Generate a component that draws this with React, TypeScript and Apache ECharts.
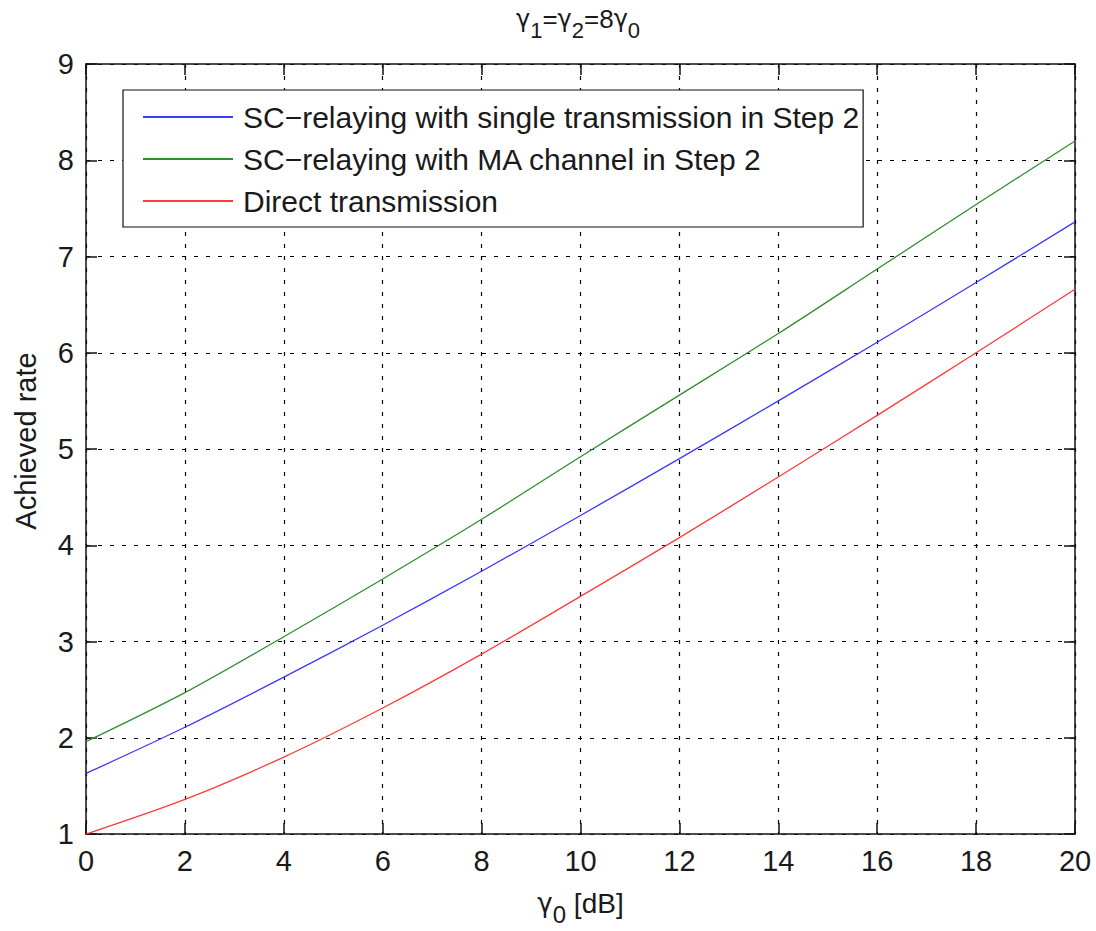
import React, { useEffect, useRef } from "react";
import * as echarts from "echarts";

const xValues = [0, 2, 4, 6, 8, 10, 12, 14, 16, 18, 20];
const singleTransmission = [1.63, 2.11, 2.63, 3.17, 3.73, 4.31, 4.9, 5.5, 6.11, 6.73, 7.36];
const maChannel = [1.96, 2.47, 3.05, 3.65, 4.27, 4.92, 5.56, 6.2, 6.87, 7.54, 8.2];
const directTransmission = [1.0, 1.36, 1.8, 2.31, 2.87, 3.47, 4.08, 4.71, 5.35, 6.0, 6.66];
const seriesNames = [
  "SC\u2212relaying with single transmission in Step 2",
  "SC\u2212relaying with MA channel in Step 2",
  "Direct transmission",
];
const xTicks = { min: 0, max: 20, interval: 2 };
const yTicks = { min: 1, max: 9, interval: 1 };

const FONT = "'Liberation Sans', Arial, Helvetica, sans-serif";
const GREEK = "'DejaVu Sans', 'Liberation Sans', sans-serif";
const TXT = "#1a1a1a";

export default function App() {
  const ref = useRef<HTMLDivElement>(null);
  useEffect(() => {
    if (!ref.current) return;
    const chart = echarts.init(ref.current, null, { renderer: "svg" });
    const toPairs = (arr: number[]) => xValues.map((x, i) => [x, arr[i]]);
    const mkRich = (size: number, subSize: number, drop: number) => ({
      g: { fontSize: size - 2, lineHeight: 30, fontFamily: GREEK, fontWeight: "normal", color: TXT },
      m: { fontSize: size, lineHeight: 30, fontFamily: FONT, fontWeight: "normal", color: TXT },
      s: {
        fontSize: subSize,
        lineHeight: subSize,
        padding: [drop, 0, 0, 0],
        fontFamily: FONT,
        fontWeight: "normal",
        color: TXT,
      },
    });
    const axisLineStyle = { color: "#111", width: 1.5 };
    const tick = { show: true, inside: true, length: 11, lineStyle: { color: "#111", width: 1.5 } };
    const gridLine = { show: true, lineStyle: { color: "#000", width: 1.2, type: [4, 8] } };
    const mkSeries = (name: string, data: number[], color: string) => ({
      name,
      type: "line",
      data: toPairs(data),
      xAxisIndex: 0,
      yAxisIndex: 0,
      showSymbol: false,
      symbol: "none",
      smooth: 0.3,
      lineStyle: { color, width: 1.3 },
      itemStyle: { color },
    });
    chart.setOption({
      animation: false,
      backgroundColor: "#ffffff",
      title: {
        text: "{g|\u03b3}{s|1}{m|=}{g|\u03b3}{s|2}{m|=8}{g|\u03b3}{s|0}",
        left: 578,
        top: 4,
        padding: 0,
        textAlign: "center",
        textStyle: { rich: mkRich(26, 22, 23), fontFamily: FONT, fontWeight: "normal" },
      },
      legend: {
        orient: "vertical",
        left: 123,
        top: 90,
        padding: [12, 4, 11, 19],
        itemGap: 12,
        itemWidth: 90,
        itemHeight: 14,
        itemStyle: { opacity: 0 },
        borderColor: "#111",
        borderWidth: 1.2,
        backgroundColor: "#fff",
        data: seriesNames,
        textStyle: {
          fontSize: 30,
          lineHeight: 30,
          fontFamily: FONT,
          color: TXT,
          padding: [0, 0, 0, 5],
        },
      },
      grid: { left: 86, right: 21, top: 64, bottom: 90, containLabel: false },
      xAxis: [
        {
          type: "value",
          ...xTicks,
          position: "bottom",
          name: "{g|\u03b3}{s|0}{m| [dB]}",
          nameLocation: "middle",
          nameGap: 40,
          nameTextStyle: { rich: mkRich(28, 24, 22) },
          axisLine: { show: true, onZero: false, lineStyle: axisLineStyle },
          axisTick: tick,
          axisLabel: { fontSize: 29, fontFamily: FONT, color: TXT, margin: 12 },
          splitLine: gridLine,
        },
        {
          type: "value",
          ...xTicks,
          position: "top",
          axisLine: { show: true, onZero: false, lineStyle: axisLineStyle },
          axisTick: tick,
          axisLabel: { show: false },
          splitLine: { show: false },
        },
      ],
      yAxis: [
        {
          type: "value",
          ...yTicks,
          position: "left",
          name: "Achieved rate",
          nameLocation: "middle",
          nameRotate: 90,
          nameGap: 46,
          nameTextStyle: { fontSize: 29, fontFamily: FONT, color: TXT, padding: [0, 0, 0, 16] },
          axisLine: { show: true, onZero: false, lineStyle: axisLineStyle },
          axisTick: tick,
          axisLabel: { fontSize: 29, fontFamily: FONT, color: TXT, margin: 12 },
          splitLine: gridLine,
        },
        {
          type: "value",
          ...yTicks,
          position: "right",
          axisLine: { show: true, onZero: false, lineStyle: axisLineStyle },
          axisTick: tick,
          axisLabel: { show: false },
          splitLine: { show: false },
        },
      ],
      series: [
        mkSeries(seriesNames[0], singleTransmission, "#3a3aff"),
        mkSeries(seriesNames[1], maChannel, "#2f8f2f"),
        mkSeries(seriesNames[2], directTransmission, "#ff3b3b"),
      ],
    });
    return () => chart.dispose();
  }, []);
  return (
    <div
      ref={ref}
      style={{ position: "fixed", left: 0, top: 0, width: 1096, height: 931, background: "#fff" }}
    />
  );
}
